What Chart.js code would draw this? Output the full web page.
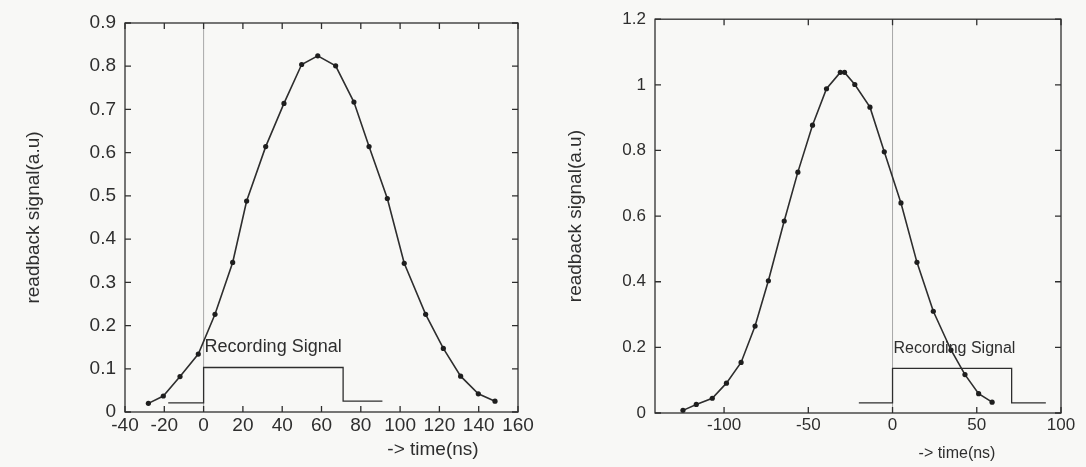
<!DOCTYPE html>
<html><head><meta charset="utf-8">
<script src="https://cdn.jsdelivr.net/npm/chart.js@4.4.1/dist/chart.umd.min.js"></script>
<style>
html,body{margin:0;padding:0;background:#f8f8f6;}
#wrap{position:relative;width:1086px;height:467px;overflow:hidden;}
.box{position:absolute;top:0;width:543px;height:467px;}
</style></head><body>
<div id="wrap">
<div class="box" style="left:0"><canvas id="c1"></canvas></div>
<div class="box" style="left:543px"><canvas id="c2"></canvas></div>
</div>
<script>
// ---------- Left panel data ----------
const leftTimes  = [-28.1,-20.5,-12.0,-2.7,5.8,14.8,21.9,31.6,40.9,49.9,58.1,67.2,76.5,84.2,93.5,102.1,113.0,122.0,130.8,139.8,148.3];
const leftSignal = [0.020,0.037,0.082,0.134,0.226,0.346,0.488,0.614,0.714,0.804,0.824,0.801,0.717,0.614,0.494,0.344,0.226,0.147,0.083,0.042,0.025];
const leftPulseTimes  = [-18,0,0,71,71,91];
const leftPulseLevels = [0.021,0.021,0.103,0.103,0.025,0.025];
const leftXTicks = [-40,-20,0,20,40,60,80,100,120,140,160];
const leftXTickLabels = ['-40','-20','0','20','40','60','80','100','120','140','160'];
const leftYTicks = [0,0.1,0.2,0.3,0.4,0.5,0.6,0.7,0.8,0.9];
const leftYTickLabels = ['0','0.1','0.2','0.3','0.4','0.5','0.6','0.7','0.8','0.9'];

// ---------- Right panel data ----------
const rightTimes  = [-124.4,-116.5,-107.0,-98.6,-89.9,-81.6,-73.7,-64.3,-56.2,-47.5,-39.2,-31.0,-28.5,-22.4,-13.4,-4.9,5.0,14.5,24.2,34.7,43.0,51.1,59.1];
const rightSignal = [0.008,0.026,0.045,0.091,0.154,0.265,0.403,0.585,0.734,0.877,0.988,1.038,1.038,1.001,0.932,0.796,0.640,0.459,0.310,0.192,0.117,0.059,0.033];
const rightPulseTimes  = [-20,0,0,70.7,70.7,91];
const rightPulseLevels = [0.031,0.031,0.136,0.136,0.031,0.031];
const rightXTicks = [-100,-50,0,50,100];
const rightXTickLabels = ['-100','-50','0','50','100'];
const rightYTicks = [0,0.2,0.4,0.6,0.8,1,1.2];
const rightYTickLabels = ['0','0.2','0.4','0.6','0.8','1','1.2'];

const yTitle = 'readback signal(a.u)';
const xTitle = '-> time(ns)';
const noteText = 'Recording Signal';

const FONT = '"Liberation Sans", Arial, Helvetica, sans-serif';
const INK = '#2e2e2e';

const framePlugin = {
  id: 'frame',
  afterDatasetsDraw(chart, args, o) {
    const {ctx, chartArea: a} = chart;
    const x = chart.scales.x, y = chart.scales.y;
    ctx.save();
    ctx.strokeStyle = INK; ctx.lineWidth = 1.3;
    ctx.strokeRect(a.left, a.top, a.right - a.left, a.bottom - a.top);
    const L = 6;
    ctx.beginPath();
    o.xTicks.forEach(v => {
      const p = x.getPixelForValue(v);
      ctx.moveTo(p, a.bottom); ctx.lineTo(p, a.bottom - L);
      ctx.moveTo(p, a.top); ctx.lineTo(p, a.top + L);
    });
    o.yTicks.forEach(v => {
      const p = y.getPixelForValue(v);
      ctx.moveTo(a.left, p); ctx.lineTo(a.left + L, p);
      ctx.moveTo(a.right, p); ctx.lineTo(a.right - L, p);
    });
    ctx.stroke();
    ctx.fillStyle = INK;
    ctx.font = o.noteFont;
    ctx.textAlign = 'left'; ctx.textBaseline = 'alphabetic';
    ctx.fillText(o.noteText, x.getPixelForValue(o.noteX) + 1, y.getPixelForValue(o.noteY));
    ctx.font = o.xTitleFont;
    ctx.textAlign = 'center'; ctx.textBaseline = 'middle';
    ctx.fillText(o.xTitle, o.xTitleX, o.xTitleY);
    ctx.restore();
  }
};

function pts(xs, ys) { return xs.map((v, i) => ({x: v, y: ys[i]})); }

function makeChart(id, cfg) {
  const xMap = new Map(cfg.xTicks.map((v, i) => [v, cfg.xLabels[i]]));
  const yMap = new Map(cfg.yTicks.map((v, i) => [v, cfg.yLabels[i]]));
  return new Chart(document.getElementById(id), {
    type: 'scatter',
    data: {
      datasets: [
        {
          data: pts(cfg.times, cfg.signal), showLine: true,
          borderColor: INK, borderWidth: 1.6, tension: 0,
          pointRadius: 2.6, pointBackgroundColor: '#1e1e1e', pointBorderWidth: 0, order: 1
        },
        {
          data: pts(cfg.pulseT, cfg.pulseV), showLine: true,
          borderColor: INK, borderWidth: 1.3, pointRadius: 0, tension: 0, order: 2
        },
        {
          data: [{x: 0, y: cfg.yMin}, {x: 0, y: cfg.yMax}], showLine: true,
          borderColor: '#a8a8a8', borderWidth: 1, pointRadius: 0, order: 3
        }
      ]
    },
    plugins: [framePlugin],
    options: {
      responsive: false, animation: false, devicePixelRatio: 1,
      layout: {padding: {top: cfg.padTop, right: cfg.padRight, left: 0, bottom: 0}},
      plugins: {
        legend: {display: false}, tooltip: {enabled: false},
        frame: {
          xTicks: cfg.xTicks, yTicks: cfg.yTicks,
          noteText: noteText, noteX: 0, noteY: cfg.noteY, noteFont: cfg.noteFont,
          xTitle: xTitle, xTitleFont: cfg.xTitleFont, xTitleX: cfg.xTitleX, xTitleY: cfg.xTitleY
        }
      },
      scales: {
        x: {
          type: 'linear', min: cfg.xMin, max: cfg.xMax,
          afterBuildTicks: s => { s.ticks = cfg.xTicks.map(v => ({value: v})); },
          afterFit: s => { s.height = cfg.xAxisH; },
          grid: {display: true, drawOnChartArea: false, drawTicks: false},
          border: {display: false},
          ticks: {color: INK, font: {family: FONT, size: cfg.tickSize}, padding: 2,
                  maxRotation: 0, autoSkip: false, callback: v => xMap.get(v)}
        },
        y: {
          type: 'linear', min: cfg.yMin, max: cfg.yMax,
          afterBuildTicks: s => { s.ticks = cfg.yTicks.map(v => ({value: v})); },
          afterFit: s => { s.width = cfg.yAxisW; },
          grid: {display: true, drawOnChartArea: false, drawTicks: false},
          border: {display: false},
          ticks: {color: INK, font: {family: FONT, size: cfg.tickSize}, padding: 9,
                  autoSkip: false, callback: v => yMap.get(v)},
          title: {display: true, text: yTitle, color: INK,
                  font: {family: FONT, size: 19}, padding: {top: cfg.yTitlePad, bottom: 0}}
        }
      }
    }
  });
}

const c1 = document.getElementById('c1'); c1.width = 543; c1.height = 467;
const c2 = document.getElementById('c2'); c2.width = 543; c2.height = 467;

makeChart('c1', {
  times: leftTimes, signal: leftSignal, pulseT: leftPulseTimes, pulseV: leftPulseLevels,
  xTicks: leftXTicks, xLabels: leftXTickLabels, yTicks: leftYTicks, yLabels: leftYTickLabels,
  xMin: -40, xMax: 160, yMin: 0, yMax: 0.9,
  padTop: 23, padRight: 25, xAxisH: 55, yAxisW: 125, tickSize: 19, yTitlePad: 22,
  noteY: 0.139, noteFont: '18px ' + FONT,
  xTitleFont: '19px ' + FONT, xTitleX: 433, xTitleY: 450
});

makeChart('c2', {
  times: rightTimes, signal: rightSignal, pulseT: rightPulseTimes, pulseV: rightPulseLevels,
  xTicks: rightXTicks, xLabels: rightXTickLabels, yTicks: rightYTicks, yLabels: rightYTickLabels,
  xMin: -141, xMax: 100, yMin: 0, yMax: 1.2,
  padTop: 15, padRight: 25, xAxisH: 54, yAxisW: 112, tickSize: 17, yTitlePad: 21,
  noteY: 0.184, noteFont: '16px ' + FONT,
  xTitleFont: '16px ' + FONT, xTitleX: 414, xTitleY: 454
});
</script>
</body></html>
